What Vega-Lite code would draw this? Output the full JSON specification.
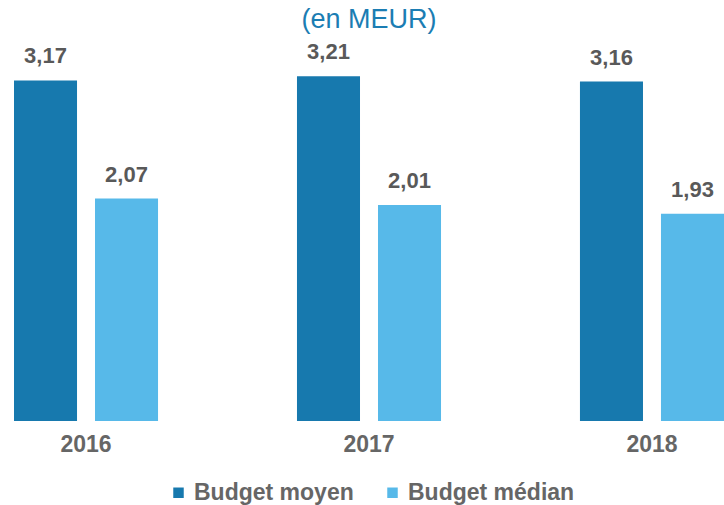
{
  "$schema": "https://vega.github.io/schema/vega-lite/v6.json",
  "width": 710,
  "height": 376,
  "autosize": {"type": "none"},
  "padding": {"left": 14, "top": 45, "right": 0, "bottom": 84},
  "background": "white",
  "config": {
    "view": {"stroke": null},
    "font": "Liberation Sans",
    "locale": {"number": {"decimal": ",", "thousands": " ", "grouping": [3], "currency": ["", " €"]}}
  },
  "title": {
    "text": "(en MEUR)",
    "fontSize": 27,
    "font": "Liberation Sans",
    "fontWeight": "normal",
    "color": "#1B7DB3",
    "anchor": "middle",
    "offset": 7
  },
  "data": {
    "values": [
      {"annee": "2016", "serie": "Budget moyen", "valeur": 3.17},
      {"annee": "2016", "serie": "Budget médian", "valeur": 2.07},
      {"annee": "2017", "serie": "Budget moyen", "valeur": 3.21},
      {"annee": "2017", "serie": "Budget médian", "valeur": 2.01},
      {"annee": "2018", "serie": "Budget moyen", "valeur": 3.16},
      {"annee": "2018", "serie": "Budget médian", "valeur": 1.93}
    ]
  },
  "encoding": {
    "x": {
      "field": "annee",
      "type": "nominal",
      "title": null,
      "scale": {"paddingInner": 0.491, "paddingOuter": 0},
      "axis": {
        "domain": false,
        "ticks": false,
        "labelAngle": 0,
        "labelFontSize": 23,
        "labelFontWeight": "bold",
        "labelColor": "#666666",
        "labelPadding": 12
      }
    },
    "xOffset": {
      "field": "serie",
      "type": "nominal",
      "scale": {"paddingInner": 0.222, "paddingOuter": 0}
    },
    "y": {
      "field": "valeur",
      "type": "quantitative",
      "scale": {"domain": [0, 3.5], "nice": false},
      "axis": null
    }
  },
  "layer": [
    {
      "mark": {"type": "bar"},
      "encoding": {
        "color": {
          "field": "serie",
          "type": "nominal",
          "scale": {"domain": ["Budget moyen", "Budget médian"], "range": ["#1779AE", "#57B9E9"]},
          "legend": {
            "title": null,
            "orient": "none",
            "legendX": 153,
            "legendY": 436,
            "direction": "horizontal",
            "symbolType": "square",
            "symbolSize": 110,
            "symbolStrokeWidth": 0,
            "labelFontSize": 23,
            "labelFontWeight": "bold",
            "labelColor": "#666666",
            "labelOffset": 4,
            "labelLimit": 300,
            "columnPadding": 27
          }
        }
      }
    },
    {
      "mark": {"type": "text", "baseline": "alphabetic", "dy": -17, "fontSize": 22, "fontWeight": "bold", "color": "#595959"},
      "encoding": {
        "text": {"field": "valeur", "type": "quantitative", "format": ".2f"}
      }
    }
  ]
}
